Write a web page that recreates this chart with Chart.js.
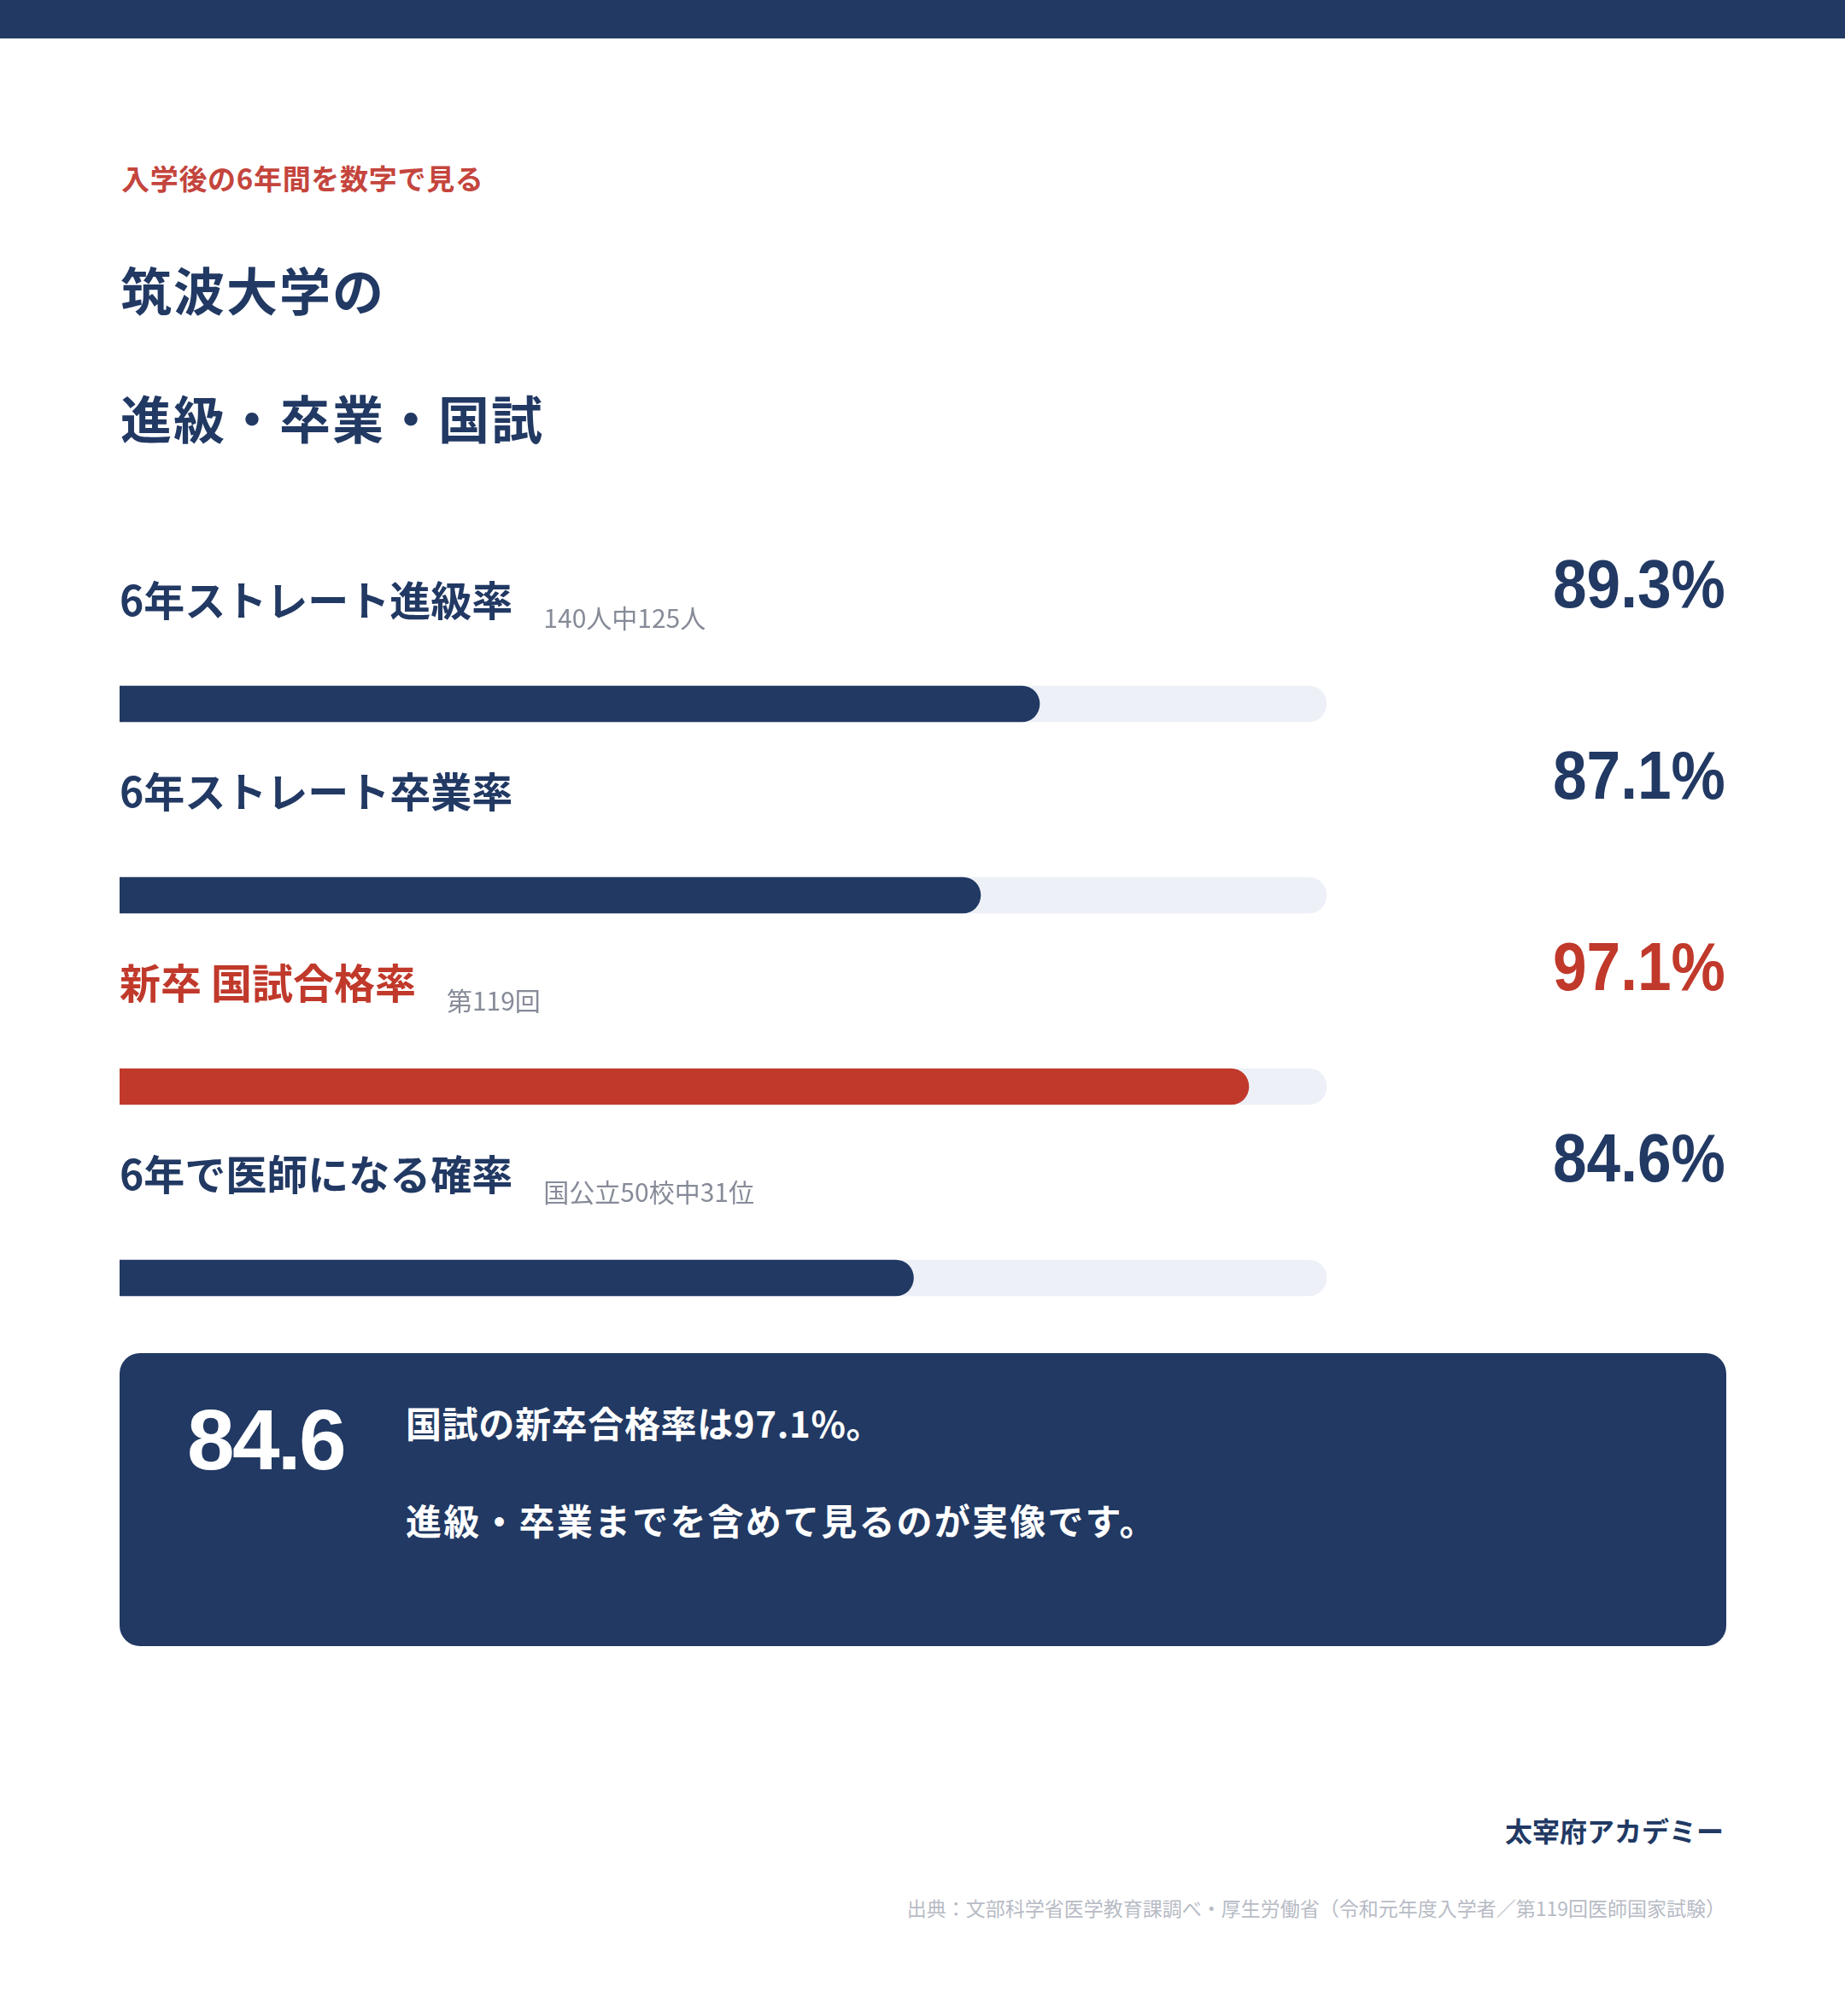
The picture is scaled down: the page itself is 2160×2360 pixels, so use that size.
<!DOCTYPE html>
<html lang="ja">
<head>
<meta charset="utf-8">
<script src="https://cdn.jsdelivr.net/npm/chart.js@4.4.1/dist/chart.umd.min.js"></script>
<style>
  html, body { margin: 0; padding: 0; background: #ffffff; }
  body { width: 2160px; height: 2360px; position: relative; overflow: hidden;
         font-family: "Noto Sans CJK JP", "Noto Sans", sans-serif; }
  .abs { position: absolute; line-height: 1; white-space: nowrap; }
  #topbar { position: absolute; left: 0; top: 0; width: 2160px; height: 45px; background: #213963; }
  #eyebrow { left: 142px; top: 192px; font-size: 33px; font-weight: 700; color: #c4453d; letter-spacing: 0.7px; }
  .title { left: 141px; font-size: 60px; font-weight: 700; color: #213963; letter-spacing: 2px; }
  #chartWrap { position: absolute; left: 140px; top: 712px; width: 1413px; height: 896px; }
  .label { font-size: 48px; font-weight: 700; color: #213963; }
  .sub { font-size: 30px; font-weight: 400; color: #868b98; }
  .value { font-family: "Liberation Sans", Arial, sans-serif; font-size: 80px; font-weight: 700;
           color: #213963; text-align: right; transform: scaleX(0.89); transform-origin: right center; }
  #box { position: absolute; left: 140px; top: 1584px; width: 1881px; height: 343px;
         background: #213963; border-radius: 24px; }
  #boxNum { font-family: "Liberation Sans", Arial, sans-serif; left: 219px; top: 1635px;
            font-size: 100px; font-weight: 700; color: #ffffff; letter-spacing: -2.7px; }
  .boxText { left: 475px; font-size: 42px; font-weight: 700; color: #ffffff; }
  #brand { right: 142px; top: 2126px; font-size: 32px; font-weight: 700; color: #213963; }
  #source { right: 140px; top: 2222px; font-size: 23px; font-weight: 400; color: #b7bbc5; }
</style>
</head>
<body>
<div id="topbar"></div>
<div class="abs" id="eyebrow">入学後の6年間を数字で見る</div>
<div class="abs title" style="top:308px">筑波大学の</div>
<div class="abs title" style="top:458px">進級・卒業・国試</div>

<div id="chartWrap"><canvas id="c"></canvas></div>

<div id="box"></div>
<div class="abs" id="boxNum">84.6</div>
<div class="abs boxText" style="top:1644px; letter-spacing:0.65px">国試の新卒合格率は97.1%。</div>
<div class="abs boxText" style="top:1758px; letter-spacing:2.2px">進級・卒業までを含めて見るのが実像です。</div>

<div class="abs" id="brand">太宰府アカデミー</div>
<div class="abs" id="source">出典：文部科学省医学教育課調べ・厚生労働省（令和元年度入学者／第119回医師国家試験）</div>

<script>
// ---- data ----
const categories = ["6年ストレート進級率", "6年ストレート卒業率", "新卒 国試合格率", "6年で医師になる確率"];
const notes = ["140人中125人", "", "第119回", "国公立50校中31位"];
const rates = [89.3, 87.1, 97.1, 84.6];
const valueLabels = ["89.3%", "87.1%", "97.1%", "84.6%"];
const highlight = [false, false, true, false];
const trackMax = [100, 100, 100, 100];
const axisMin = 55;
const axisMax = 100;

const NAVY = "#213963";
const RED = "#c0392b";
const TRACK = "#edf0f7";

const chart = new Chart(document.getElementById("c"), {
  type: "bar",
  data: {
    labels: categories,
    datasets: [
      {
        label: "rate",
        data: rates,
        backgroundColor: highlight.map(h => h ? RED : NAVY),
        order: 0
      },
      {
        label: "track",
        data: trackMax,
        backgroundColor: TRACK,
        order: 1
      }
    ]
  },
  options: {
    indexAxis: "y",
    responsive: true,
    maintainAspectRatio: false,
    animation: false,
    devicePixelRatio: 1,
    layout: { padding: 0 },
    datasets: {
      bar: {
        grouped: false,
        barThickness: 42,
        borderRadius: 21,
        borderSkipped: false,
        borderWidth: 0
      }
    },
    plugins: { legend: { display: false }, tooltip: { enabled: false } },
    scales: {
      x: { display: false, min: axisMin, max: axisMax },
      y: { display: false }
    }
  }
});

// ---- place the row texts from the category scale ----
const wrapTop = 712;
const yScale = chart.scales.y;
categories.forEach((cat, i) => {
  const cy = wrapTop + yScale.getPixelForValue(i);
  const color = highlight[i] ? RED : NAVY;

  const lab = document.createElement("div");
  lab.className = "abs label";
  lab.textContent = cat;
  lab.style.left = "140px";
  lab.style.top = (cy - 148) + "px";
  lab.style.color = color;
  document.body.appendChild(lab);

  if (notes[i]) {
    const w = lab.getBoundingClientRect().width;
    const sub = document.createElement("div");
    sub.className = "abs sub";
    sub.textContent = notes[i];
    sub.style.left = (140 + w + 36) + "px";
    sub.style.top = (cy - 117) + "px";
    document.body.appendChild(sub);
  }

  const val = document.createElement("div");
  val.className = "abs value";
  val.textContent = valueLabels[i];
  val.style.right = "140px";
  val.style.top = (cy - 180) + "px";
  val.style.color = color;
  document.body.appendChild(val);
});
</script>
</body>
</html>
